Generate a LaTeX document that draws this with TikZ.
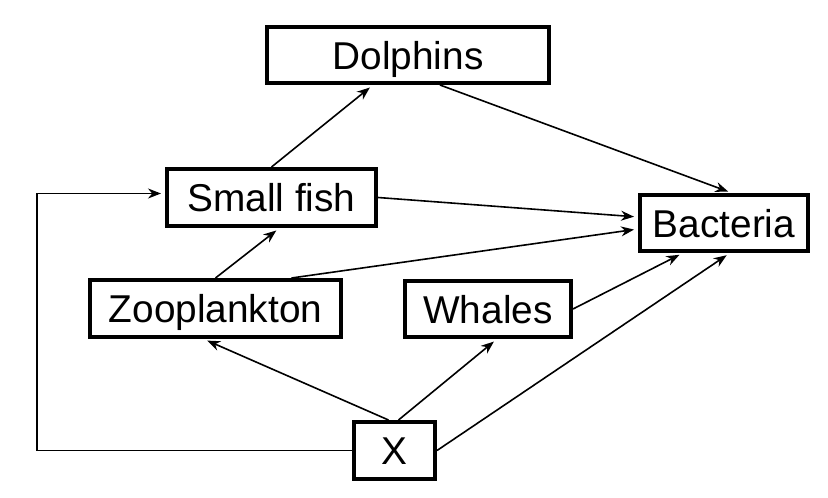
\documentclass[tikz,border=0pt]{standalone}
\usepackage{fontspec}
\setmainfont{Liberation Sans}
\usetikzlibrary{arrows.meta}
\begin{document}
\begin{tikzpicture}[x=1pt,y=-1pt,
  box/.style={draw,line width=4pt,inner sep=0pt,font=\fontsize{38.8}{46}\selectfont,
    text height=28pt,text depth=0pt},
  arr/.style={line width=1.6pt,-{Stealth[length=13pt,width=10pt]},shorten >=4pt}]
\useasboundingbox[fill=white] (0,0) rectangle (828,498);
\node[box,minimum width=282pt,minimum height=56pt] (dol) at (408,55) {Dolphins};
\node[box,minimum width=209pt,minimum height=57pt] (sf) at (271.5,197.5) {Small fish};
\node[box,minimum width=168pt,minimum height=56pt] (bac) at (724,223) {Bacteria};
\node[box,minimum width=251pt,minimum height=57pt] (zoo) at (215.5,308.5) {Zooplankton};
\node[box,minimum width=166pt,minimum height=56pt] (wha) at (488,309) {Whales};
\node[box,minimum width=81pt,minimum height=57pt] (x) at (394.5,450.5) {X};
\coordinate (c1) at (37,449);
\draw[arr] (sf.north) -- ([xshift=-35pt]dol.south);
\draw[arr] ([xshift=32pt]dol.south) -- ([xshift=8pt]bac.north);
\draw[arr] (sf.east) -- ([yshift=6pt]bac.west);
\draw[arr] ([xshift=76pt]zoo.north) -- ([yshift=-6pt]bac.west);
\draw[arr] (zoo.north) -- ([xshift=8pt]sf.south);
\draw[arr] (wha.east) -- ([xshift=-41pt]bac.south);
\draw[arr] (x.east) -- ([xshift=6pt]bac.south);
\draw[arr] ([xshift=-6pt]x.north) -- ([xshift=-12pt]zoo.south);
\draw[arr] ([xshift=4pt]x.north) -- ([xshift=9pt]wha.south);
\draw[arr] (x.west) -- (x.west -| c1) |- ([yshift=4pt]sf.west);
\end{tikzpicture}
\end{document}
